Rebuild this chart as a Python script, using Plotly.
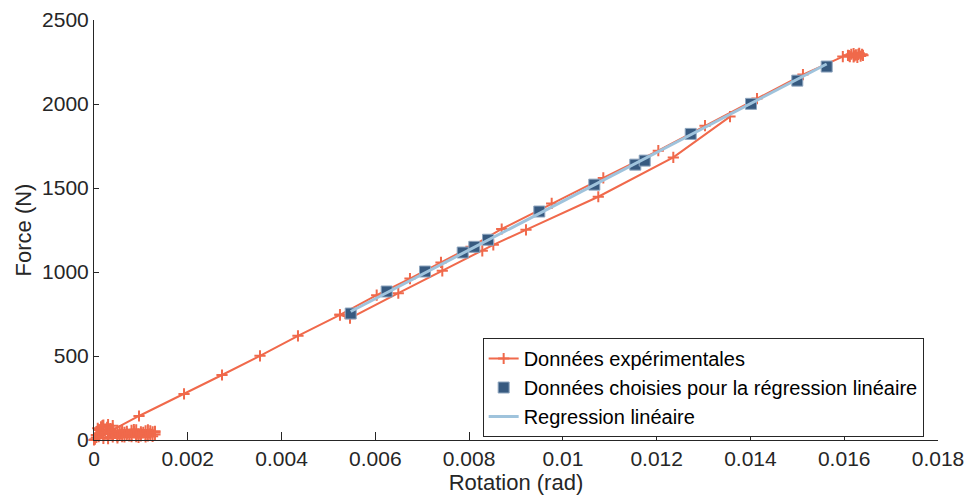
import plotly.graph_objects as go

# ---- data ----
# cluster of noisy points near the origin
origin_x = [0.0, 0.00005, 0.0001, 0.00015, 0.0002, 0.0003, 0.0004, 0.00035, 0.0002, 0.0001,
            0.00005, 0.0002, 0.0004, 0.0006, 0.0008, 0.001, 0.0012, 0.0013, 0.0011, 0.0009,
            0.0007, 0.0005, 0.0003, 0.0006, 0.0009, 0.0012, 0.0013, 0.001, 0.0007, 0.0004,
            0.00025, 0.00035, 0.00045, 0.00055, 0.00065, 0.00075, 0.00085, 0.00095, 0.00105,
            0.00115, 0.00125, 0.0012, 0.0011, 0.001, 0.0009, 0.0008, 0.0007, 0.0006, 0.0005,
            0.0004, 0.0003, 0.0002, 0.0001, 0.00002, 0.00008, 0.00018, 0.00028, 0.00038,
            0.0005, 0.00065, 0.0008, 0.00095, 0.0011, 0.00125, 0.0013, 0.00115, 0.00085,
            0.00055, 0.0003]
origin_y = [0, 30, 60, 78, 88, 92, 85, 68, 55, 40,
            15, 10, 28, 42, 33, 48, 38, 52, 28, 20,
            52, 22, 35, 58, 60, 55, 32, 24, 30, 48,
            62, 60, 40, 30, 45, 25, 50, 35, 45,
            25, 48, 30, 55, 38, 28, 58, 40, 20, 50,
            18, 8, 35, 20, 5, 70, 85, 75, 50,
            12, 18, 20, 15, 18, 22, 45, 60, 62,
            55, 45]
# main loading line then upper branch up to the top
upper_x = [0.00096, 0.00192, 0.00273, 0.00354, 0.00435, 0.005246, 0.006029, 0.006739, 0.0074,
           0.00804, 0.008695, 0.009761, 0.010862, 0.012035, 0.013031, 0.01414, 0.01512, 0.01597]
upper_y = [143, 274, 387, 501, 620, 745, 862, 961, 1057,
           1150, 1256, 1408, 1560, 1722, 1871, 2032, 2175, 2282]
# cluster at the top end
top_x = [0.01608, 0.0162, 0.0163, 0.01635, 0.0162, 0.0161, 0.01625, 0.0164, 0.01628, 0.01615,
         0.01632, 0.01612, 0.01638, 0.01622]
top_y = [2290, 2300, 2295, 2285, 2280, 2288, 2292, 2290, 2278, 2296,
         2302, 2282, 2296, 2286]
# lower branch of the loop
lower_x = [0.005246, 0.00546, 0.00649, 0.007428, 0.008281, 0.008516, 0.009213, 0.010755,
           0.012355, 0.013564]
lower_y = [745, 725, 874, 1007, 1126, 1162, 1251, 1448, 1682, 1925]

# points chosen for the linear regression
sel_x = [0.005475, 0.006242, 0.007059, 0.007863, 0.008111, 0.008403, 0.009497, 0.01067,
         0.011544, 0.011745, 0.012726, 0.014012, 0.014999, 0.015626]
sel_y = [753, 884, 1003, 1116, 1150, 1192, 1360, 1520, 1639, 1663, 1822, 2001, 2139, 2223]

# regression line end points
reg_x = [0.005475, 0.015626]
reg_y = [765, 2238]

x_ticks = [0, 0.002, 0.004, 0.006, 0.008, 0.01, 0.012, 0.014, 0.016, 0.018]
x_tick_labels = ["0", "0.002", "0.004", "0.006", "0.008", "0.01", "0.012", "0.014", "0.016", "0.018"]
y_ticks = [0, 500, 1000, 1500, 2000, 2500]

ORANGE = "#F0694B"
NAVY = "#375A80"
LIGHTBLUE = "#9FC3DC"
AX = "#262626"
FONT = "Liberation Sans, Arial, sans-serif"

exp_x = origin_x + upper_x + top_x + [None] + lower_x
exp_y = origin_y + upper_y + top_y + [None] + lower_y

fig = go.Figure()
fig.add_trace(go.Scatter(
    x=exp_x, y=exp_y, mode="lines+markers", name="Données expérimentales",
    line=dict(color=ORANGE, width=2),
    marker=dict(symbol="cross-thin", size=8, line=dict(color=ORANGE, width=2), color=ORANGE),
    cliponaxis=False,
))
fig.add_trace(go.Scatter(
    x=sel_x, y=sel_y, mode="markers", name="Données choisies pour la régression linéaire",
    marker=dict(symbol="square", size=11, color=NAVY, line=dict(color="#8FA6BF", width=1)),
))
fig.add_trace(go.Scatter(
    x=reg_x, y=reg_y, mode="lines", name="Regression linéaire",
    line=dict(color=LIGHTBLUE, width=3),
))

# the page body adds an 8px margin, so the figure is sized to fit the window exactly
fig.update_layout(
    width=957, height=487,
    margin=dict(l=86, r=27, t=12, b=55),
    paper_bgcolor="white", plot_bgcolor="white",
    font=dict(family=FONT, size=21, color=AX),
    showlegend=True,
    legend=dict(
        x=0.4605, y=0.125, xanchor="left", yanchor="middle",
        bgcolor="white", bordercolor=AX, borderwidth=1,
        font=dict(family=FONT, size=20, color="black"),
        itemwidth=30, tracegroupgap=0,
    ),
    xaxis=dict(
        range=[0, 0.018], tickvals=x_ticks, ticktext=x_tick_labels,
        showgrid=False, zeroline=False, showline=True, linecolor=AX, linewidth=1,
        ticks="inside", ticklen=8, tickcolor=AX, automargin=False,
        title=dict(text="Rotation (rad)", font=dict(size=22, color=AX), standoff=4),
        tickfont=dict(size=21, color=AX),
    ),
    yaxis=dict(
        range=[0, 2500], tickvals=y_ticks,
        showgrid=False, zeroline=False, showline=True, linecolor=AX, linewidth=1,
        ticks="inside", ticklen=5, tickcolor=AX, automargin=False,
        title=dict(text="Force (N)", font=dict(size=22, color=AX), standoff=4),
        tickfont=dict(size=21, color=AX),
    ),
)

fig.write_html("out.html")
